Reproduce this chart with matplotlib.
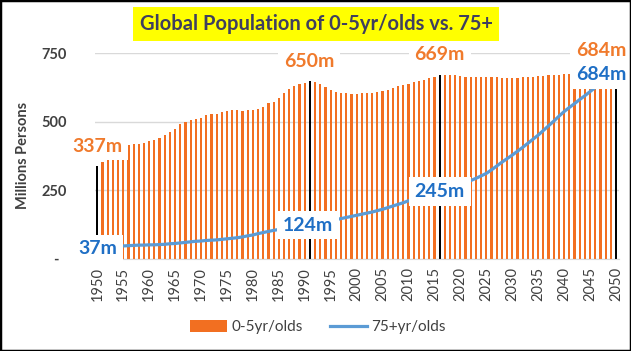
import matplotlib
matplotlib.use("Agg")
import matplotlib.pyplot as plt
from matplotlib.patches import Rectangle, Patch
from matplotlib.lines import Line2D

plt.rcParams['font.family'] = ['Lato', 'DejaVu Sans']

years = list(range(1950, 2051))
young = [337, 353, 368, 383, 395, 405, 414, 419, 419, 423,
         428, 432, 440, 451, 463, 473, 490, 498, 506, 511,
         514, 523, 527, 530, 537, 539, 543, 543, 539, 543,
         544, 546, 553, 567, 573, 588, 606, 621, 630, 637,
         641, 650, 644, 637, 628, 616, 607, 604, 604, 601,
         603, 605, 605, 605, 610, 613, 617, 623, 631, 634,
         638, 644, 649, 652, 658, 662, 669, 669, 669, 669,
         668, 665, 665, 665, 665, 663, 662, 662, 661, 660,
         659, 661, 663, 664, 665, 666, 668, 670, 671, 672,
         673, 675, 676, 677, 678, 679, 680, 681, 682, 683,
         684]
old = [37, 39, 41, 43, 45, 46, 47, 48, 49, 49,
       50, 50, 51, 52, 54, 55, 57, 59, 61, 63,
       64, 66, 67, 68, 70, 72, 74, 76, 79, 83,
       86, 91, 95, 99, 103, 106, 109, 112, 115, 118,
       121, 124, 127, 131, 135, 139, 142, 146, 150, 154,
       158, 162, 166, 170, 175, 180, 186, 192, 198, 204,
       211, 217, 223, 229, 235, 240, 245, 251, 257, 264,
       271, 279, 285, 293, 302, 311, 324, 338, 352, 365,
       378, 392, 406, 421, 436, 451, 468, 485, 502, 520,
       537, 552, 566, 581, 595, 610, 625, 640, 654, 669,
       684]
highlight_years = [1950, 1991, 2016, 2050]
tick_years = list(range(1950, 2051, 5))
ytick_vals = [0, 250, 500, 750]
ytick_labels = ['-  ', '250', '500', '750']

# annotations: (text, year, value)
young_labels = [("337m", 1950, 411), ("650m", 1990.8, 720), ("669m", 2016, 744), ("684m", 2047.1, 762)]
old_labels = [("37m", 1950, 35), ("124m", 1990.6, 122), ("245m", 2016, 244), ("684m", 2047.1, 671)]

ORANGE = '#F26F21'
ORANGE_TXT = '#F07A2C'
BLUE = '#5B9BD5'
BLUE_TXT = '#1F6FC5'
GRAY = '#404040'

fig = plt.figure(figsize=(6.31, 3.51), dpi=100)
ax = fig.add_axes([0.1501, 0.2635, 0.9803 - 0.1501, 0.8481 - 0.2635])

colors = ['black' if y in highlight_years else ORANGE for y in years]
ax.bar(years, young, width=0.42, color=colors, zorder=2, linewidth=0)
ax.plot(years, old, color=BLUE, lw=2.3, zorder=3, solid_capstyle='round')

ax.set_xlim(1949.5, 2050.5)
ax.set_ylim(0, 750)
ax.set_yticks(ytick_vals)
ax.set_yticklabels(ytick_labels)
ax.set_xticks(tick_years)
ax.set_xticklabels([str(y) for y in tick_years], rotation=90)
ax.tick_params(axis='x', length=0, pad=6, labelsize=10.5, labelcolor=GRAY)
ax.tick_params(axis='y', length=0, pad=20, labelsize=10.5, labelcolor=GRAY)
for lab in ax.get_yticklabels():
    lab.set_fontweight('bold')
ax.grid(axis='y', color='#D9D9D9', lw=1, zorder=0)
ax.set_axisbelow(True)
for s in ['top', 'right', 'left']:
    ax.spines[s].set_visible(False)
ax.spines['bottom'].set_color('#D9D9D9')
ax.set_ylabel("Millions Persons", fontsize=10.5, fontweight='bold', color=GRAY)
ax.yaxis.set_label_coords(-0.1235, 0.5)

bb = dict(boxstyle='square,pad=0.3', fc='white', ec='none')
for t, x, v in young_labels:
    ax.text(x, v, t, color=ORANGE_TXT, fontsize=14, fontweight='bold', ha='center', va='center',
            bbox=bb, zorder=5)
for t, x, v in old_labels:
    ax.text(x, v, t, color=BLUE_TXT, fontsize=14, fontweight='bold', ha='center', va='center',
            bbox=bb, zorder=5)

fig.text(316 / 631, 1 - 24 / 351, "Global Population of 0-5yr/olds vs. 75+", ha='center', va='center',
         fontsize=14.5, fontweight='bold', color='#3F3F5F',
         bbox=dict(boxstyle='square,pad=0.35', fc='#FFFF00', ec='none'))

handles = [Patch(facecolor=ORANGE, edgecolor='none'), Line2D([0], [0], color=BLUE, lw=2.3)]
fig.legend(handles, ['0-5yr/olds', '75+yr/olds'], loc='center', bbox_to_anchor=(318 / 631, 1 - 327 / 351),
           ncol=2, frameon=False, fontsize=11, handlelength=2.4, handleheight=0.8, columnspacing=1.8,
           handletextpad=0.3, labelcolor=GRAY)

fig.patches.append(Rectangle((0, 0), 1, 1, transform=fig.transFigure, fill=False, ec='black', lw=2.5))

fig.savefig('out.png', dpi=100)
